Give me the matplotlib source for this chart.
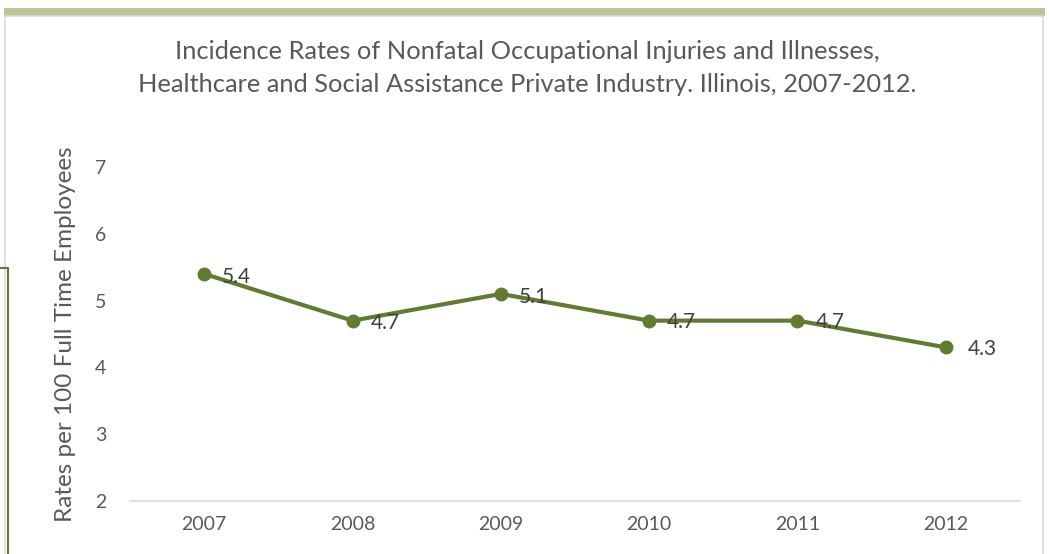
import matplotlib.pyplot as plt
from matplotlib.patches import Rectangle
from matplotlib.lines import Line2D

years = ["2007", "2008", "2009", "2010", "2011", "2012"]
rates = [5.4, 4.7, 5.1, 4.7, 4.7, 4.3]
y_ticks = [2, 3, 4, 5, 6, 7]

green = "#617b30"
text_gray = "#595959"

plt.rcParams["font.family"] = ["Lato", "DejaVu Sans"]

fig = plt.figure(figsize=(10.49, 5.54), dpi=100)
W, H = 1049, 554

# slide decoration: olive band on top, frame and left rule
fig.patches.append(Rectangle((4 / W, 1 - 16 / H), 1041 / W, 8 / H, transform=fig.transFigure,
                             facecolor="#c0c498", edgecolor="none", zorder=-2))
fig.patches.append(Rectangle((5 / W, -0.01), 1038 / W, 1 - 16 / H + 0.01, transform=fig.transFigure,
                             facecolor="white", edgecolor="#d9d9d9", linewidth=1.2, zorder=-2))
fig.lines.append(Line2D([0, 8 / W, 8 / W], [1 - 268 / H, 1 - 268 / H, 0], transform=fig.transFigure,
                        color=green, linewidth=1.5, zorder=-1))

ax = fig.add_axes([130 / W, 1 - 501 / H, 890 / W, 334 / H])
x = list(range(len(years)))
ax.plot(x, rates, color=green, linewidth=3, marker="o", markersize=9, zorder=3)

offsets = [(13, -2), (13, -2), (13, -2), (13, -1), (13, -1), (16, -1.5)]
for xi, r, off in zip(x, rates, offsets):
    ax.annotate(f"{r}", (xi, r), xytext=off, textcoords="offset points",
                ha="left", va="center", fontsize=15, color="#404040", zorder=4)

ax.set_xlim(-0.5, 5.5)
ax.set_ylim(2, 7)
ax.set_xticks(x)
ax.set_xticklabels(years)
ax.set_yticks(y_ticks)
ax.tick_params(axis="both", length=0, labelsize=14, labelcolor=text_gray)
ax.tick_params(axis="x", pad=11)
ax.tick_params(axis="y", pad=17)
for s in ["top", "right", "left"]:
    ax.spines[s].set_visible(False)
ax.spines["bottom"].set_color("#d9d9d9")
ax.spines["bottom"].set_linewidth(1.2)
ax.set_facecolor("none")

ax.set_ylabel("Rates per 100 Full Time Employees", fontsize=17.5, color=text_gray, labelpad=14)

fig.text(527 / W, 1 - 68 / H,
         "Incidence Rates of Nonfatal Occupational Injuries and Illnesses,\n"
         "Healthcare and Social Assistance Private Industry. Illinois, 2007-2012.",
         ha="center", va="center", fontsize=18.3, color=text_gray, linespacing=1.55)

fig.savefig("out.png", dpi=100)
